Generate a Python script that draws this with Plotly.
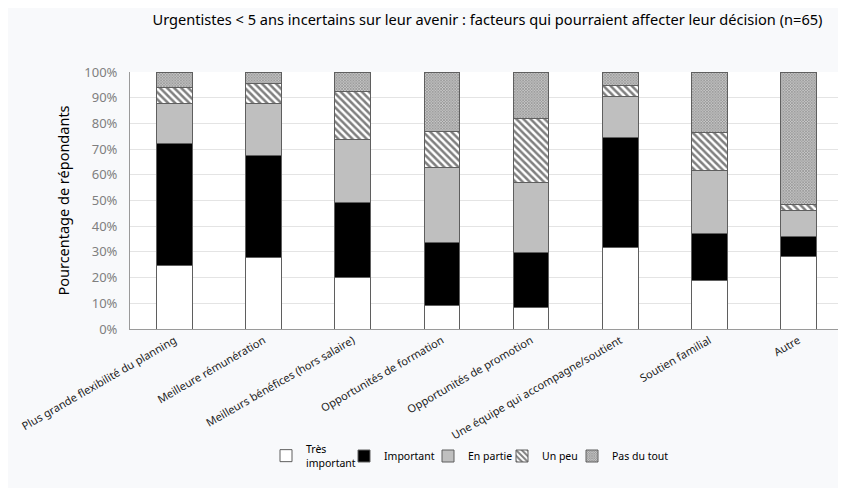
import plotly.graph_objects as go

# Values (percentage of respondents, n=65)
categories = [
    'Plus grande flexibilité du planning',
    'Meilleure rémunération',
    'Meilleurs bénéfices (hors salaire)',
    'Opportunités de formation',
    'Opportunités de promotion',
    'Une équipe qui accompagne/soutient',
    'Soutien familial',
    'Autre',
]
tres_important = [24.6, 27.7, 20.0, 9.2, 8.2, 31.6, 18.8, 28.1]
important = [47.7, 40.0, 29.2, 24.6, 21.5, 42.8, 18.4, 7.7]
en_partie = [15.4, 20.0, 24.6, 29.2, 27.5, 16.0, 24.3, 10.3]
un_peu = [6.2, 7.7, 18.5, 13.8, 24.8, 4.5, 15.0, 2.4]
pas_du_tout = [6.1, 4.6, 7.7, 23.2, 18.0, 5.1, 23.5, 51.5]

tick_vals = [0, 10, 20, 30, 40, 50, 60, 70, 80, 90, 100]
tick_text = ['%d%%' % v for v in tick_vals]

font = 'Noto Sans'
outline = dict(color='#5f5f5f', width=1)

series = [
    ('Très<br>important', tres_important, dict(color='white')),
    ('Important', important, dict(color='black')),
    ('En partie', en_partie, dict(color='#bfbfbf')),
    ('Un peu', un_peu, dict(color='white',
                            pattern=dict(shape='\\', fgcolor='black',
                                         bgcolor='white', size=5,
                                         solidity=0.5))),
    ('Pas du tout', pas_du_tout, dict(color='#a8a8a8',
                                      pattern=dict(shape='x', fgcolor='#404040',
                                                   bgcolor='#c8c8c8', size=2,
                                                   solidity=0.5))),
]

# the page body adds an 8px offset, so positions below are in figure px
# (reference px minus 8)
OFF = 8
W, H = 846, 488
# one legend per entry so the entries can sit where the reference has them
legend_left = [266, 344, 428, 502, 572]

fig = go.Figure()
for i, (name, vals, marker) in enumerate(series):
    marker = dict(marker, line=outline)
    lg = 'legend' if i == 0 else 'legend%d' % (i + 1)
    fig.add_trace(go.Bar(x=categories, y=vals, name=name, marker=marker,
                         legend=lg))

legend_style = dict(xref='container', yref='container', xanchor='left',
                    y=1 - (456 - OFF) / H, yanchor='middle',
                    font=dict(size=10.5),
                    bgcolor='rgba(0,0,0,0)', orientation='h')
legends = {}
for i, left in enumerate(legend_left):
    key = 'legend' if i == 0 else 'legend%d' % (i + 1)
    legends[key] = dict(legend_style, x=(left - OFF) / W)

fig.update_layout(
    barmode='stack',
    bargap=0.6,
    width=W,
    height=H,
    margin=dict(l=130 - OFF, r=W - (843 - OFF), t=72 - OFF,
                b=H - (329 - OFF)),
    paper_bgcolor='#f8f9fb',
    plot_bgcolor='white',
    font=dict(family=font, size=12, color='black'),
    title=dict(text='Urgentistes < 5 ans incertains sur leur avenir : '
                    'facteurs qui pourraient affecter leur décision (n=65)',
               x=(487.5 - OFF) / W, xanchor='center',
               y=1 - (20 - OFF) / H, yanchor='middle',
               font=dict(family=font, size=14.6, color='black')),
    showlegend=True,
    **legends,
)
fig.update_xaxes(tickangle=-30, tickfont=dict(size=11, color='#222'),
                 showline=True, linecolor='#9a9a9a', ticks='',
                 automargin=False)
fig.update_yaxes(range=[0, 100], tickvals=tick_vals, ticktext=tick_text,
                 tickfont=dict(size=13, color='#7f7f7f'),
                 ticklabelstandoff=9,
                 showgrid=True, gridcolor='#e4e4e4',
                 showline=True, linecolor='#9a9a9a', zeroline=False,
                 automargin=False,
                 title=dict(text='Pourcentage de répondants', standoff=11,
                            font=dict(size=14.5, color='black')))

fig.write_html('out.html')
